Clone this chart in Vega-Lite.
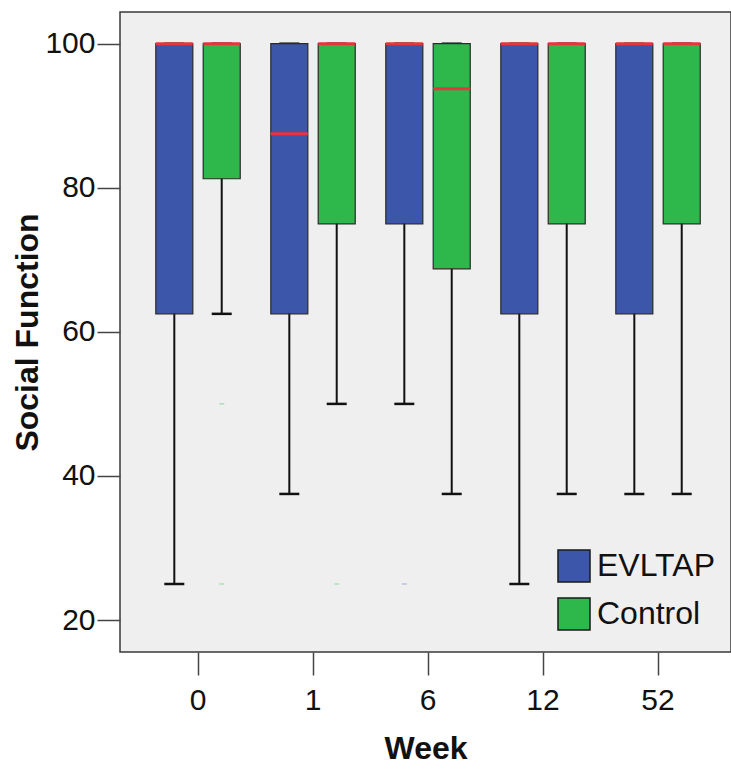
{
  "$schema": "https://vega.github.io/schema/vega-lite/v6.json",
  "autosize": {"type": "none"},
  "padding": {"left": 120, "top": 12, "right": 0, "bottom": 121},
  "width": 611,
  "height": 640,
  "background": "white",
  "datasets": {
    "boxes": [
      {"week": "0", "group": "EVLTAP", "min": 25, "q1": 62.5, "median": 100, "q3": 100, "max": 100},
      {"week": "0", "group": "Control", "min": 62.5, "q1": 81.25, "median": 100, "q3": 100, "max": 100},
      {"week": "1", "group": "EVLTAP", "min": 37.5, "q1": 62.5, "median": 87.5, "q3": 100, "max": 100},
      {"week": "1", "group": "Control", "min": 50, "q1": 75, "median": 100, "q3": 100, "max": 100},
      {"week": "6", "group": "EVLTAP", "min": 50, "q1": 75, "median": 100, "q3": 100, "max": 100},
      {"week": "6", "group": "Control", "min": 37.5, "q1": 68.75, "median": 93.75, "q3": 100, "max": 100},
      {"week": "12", "group": "EVLTAP", "min": 25, "q1": 62.5, "median": 100, "q3": 100, "max": 100},
      {"week": "12", "group": "Control", "min": 37.5, "q1": 75, "median": 100, "q3": 100, "max": 100},
      {"week": "52", "group": "EVLTAP", "min": 37.5, "q1": 62.5, "median": 100, "q3": 100, "max": 100},
      {"week": "52", "group": "Control", "min": 37.5, "q1": 75, "median": 100, "q3": 100, "max": 100}
    ],
    "outliers": [
      {"week": "0", "group": "Control", "value": 50},
      {"week": "0", "group": "Control", "value": 25},
      {"week": "1", "group": "Control", "value": 25},
      {"week": "6", "group": "EVLTAP", "value": 25}
    ]
  },
  "encoding": {
    "x": {
      "field": "week", "type": "nominal",
      "scale": {"domain": ["0", "1", "6", "12", "52"], "paddingInner": 0, "paddingOuter": 0.1565, "align": 0.57},
      "axis": {"title": "Week", "labelAngle": 0, "labelPadding": 10, "titlePadding": 18}
    },
    "xOffset": {
      "field": "group", "type": "nominal",
      "scale": {"domain": ["EVLTAP", "Control"], "paddingInner": 0.219, "paddingOuter": 0.3225}
    }
  },
  "layer": [
    {
      "data": {"name": "boxes"},
      "mark": {"type": "rule", "color": "#111", "strokeWidth": 2},
      "encoding": {
        "y": {
          "field": "min", "type": "quantitative",
          "scale": {"domain": [15.56, 104.4], "nice": false, "zero": false},
          "axis": {"title": "Social Function", "values": [20, 40, 60, 80, 100], "labelPadding": 2, "titlePadding": 0}
        },
        "y2": {"field": "max"}
      }
    },
    {
      "data": {"name": "boxes"},
      "mark": {"type": "tick", "color": "#111", "thickness": 2.5, "size": 20, "opacity": 1},
      "encoding": {"y": {"field": "min", "type": "quantitative"}}
    },
    {
      "data": {"name": "boxes"},
      "mark": {"type": "tick", "color": "#111", "thickness": 2.5, "size": 20, "opacity": 1},
      "encoding": {"y": {"field": "max", "type": "quantitative"}}
    },
    {
      "data": {"name": "boxes"},
      "mark": {"type": "bar", "stroke": "#2a2a2a", "strokeWidth": 1.2, "opacity": 1},
      "encoding": {
        "y": {"field": "q1", "type": "quantitative"},
        "y2": {"field": "q3"},
        "color": {
          "field": "group", "type": "nominal",
          "scale": {"domain": ["EVLTAP", "Control"], "range": ["#3C56A9", "#2EB84B"]},
          "legend": {
            "title": null, "orient": "none", "legendX": 437, "legendY": 537,
            "symbolType": "square", "symbolSize": 1024, "symbolStrokeColor": "#1a1a1a", "symbolStrokeWidth": 1.5,
            "symbolOpacity": 1, "labelFont": "Liberation Sans", "labelFontSize": 32, "labelColor": "#111",
            "labelOffset": 6, "rowPadding": 10, "padding": 0, "labelLimit": 300
          }
        }
      }
    },
    {
      "data": {"name": "boxes"},
      "mark": {"type": "tick", "color": "#E8353C", "thickness": 3, "size": 37, "opacity": 1},
      "encoding": {"y": {"field": "median", "type": "quantitative"}}
    },
    {
      "data": {"name": "outliers"},
      "transform": [{"filter": "datum.group === 'Control'"}],
      "mark": {"type": "tick", "color": "#8fd69c", "thickness": 1, "size": 5, "opacity": 1},
      "encoding": {"y": {"field": "value", "type": "quantitative"}}
    },
    {
      "data": {"name": "outliers"},
      "transform": [{"filter": "datum.group === 'EVLTAP'"}],
      "mark": {"type": "tick", "color": "#a3acd6", "thickness": 1, "size": 5, "opacity": 1},
      "encoding": {"y": {"field": "value", "type": "quantitative"}}
    }
  ],
  "config": {
    "view": {"fill": "#EFEFEF", "stroke": "#3a3a3a", "strokeWidth": 1.5},
    "font": "Liberation Sans",
    "axis": {
      "domain": false, "grid": false,
      "labelFont": "Liberation Sans", "labelFontSize": 30, "labelColor": "#111",
      "tickColor": "#444", "tickWidth": 1.5, "tickSize": 23,
      "titleFont": "Liberation Sans", "titleFontWeight": "bold", "titleFontSize": 32, "titleColor": "#111"
    }
  }
}
